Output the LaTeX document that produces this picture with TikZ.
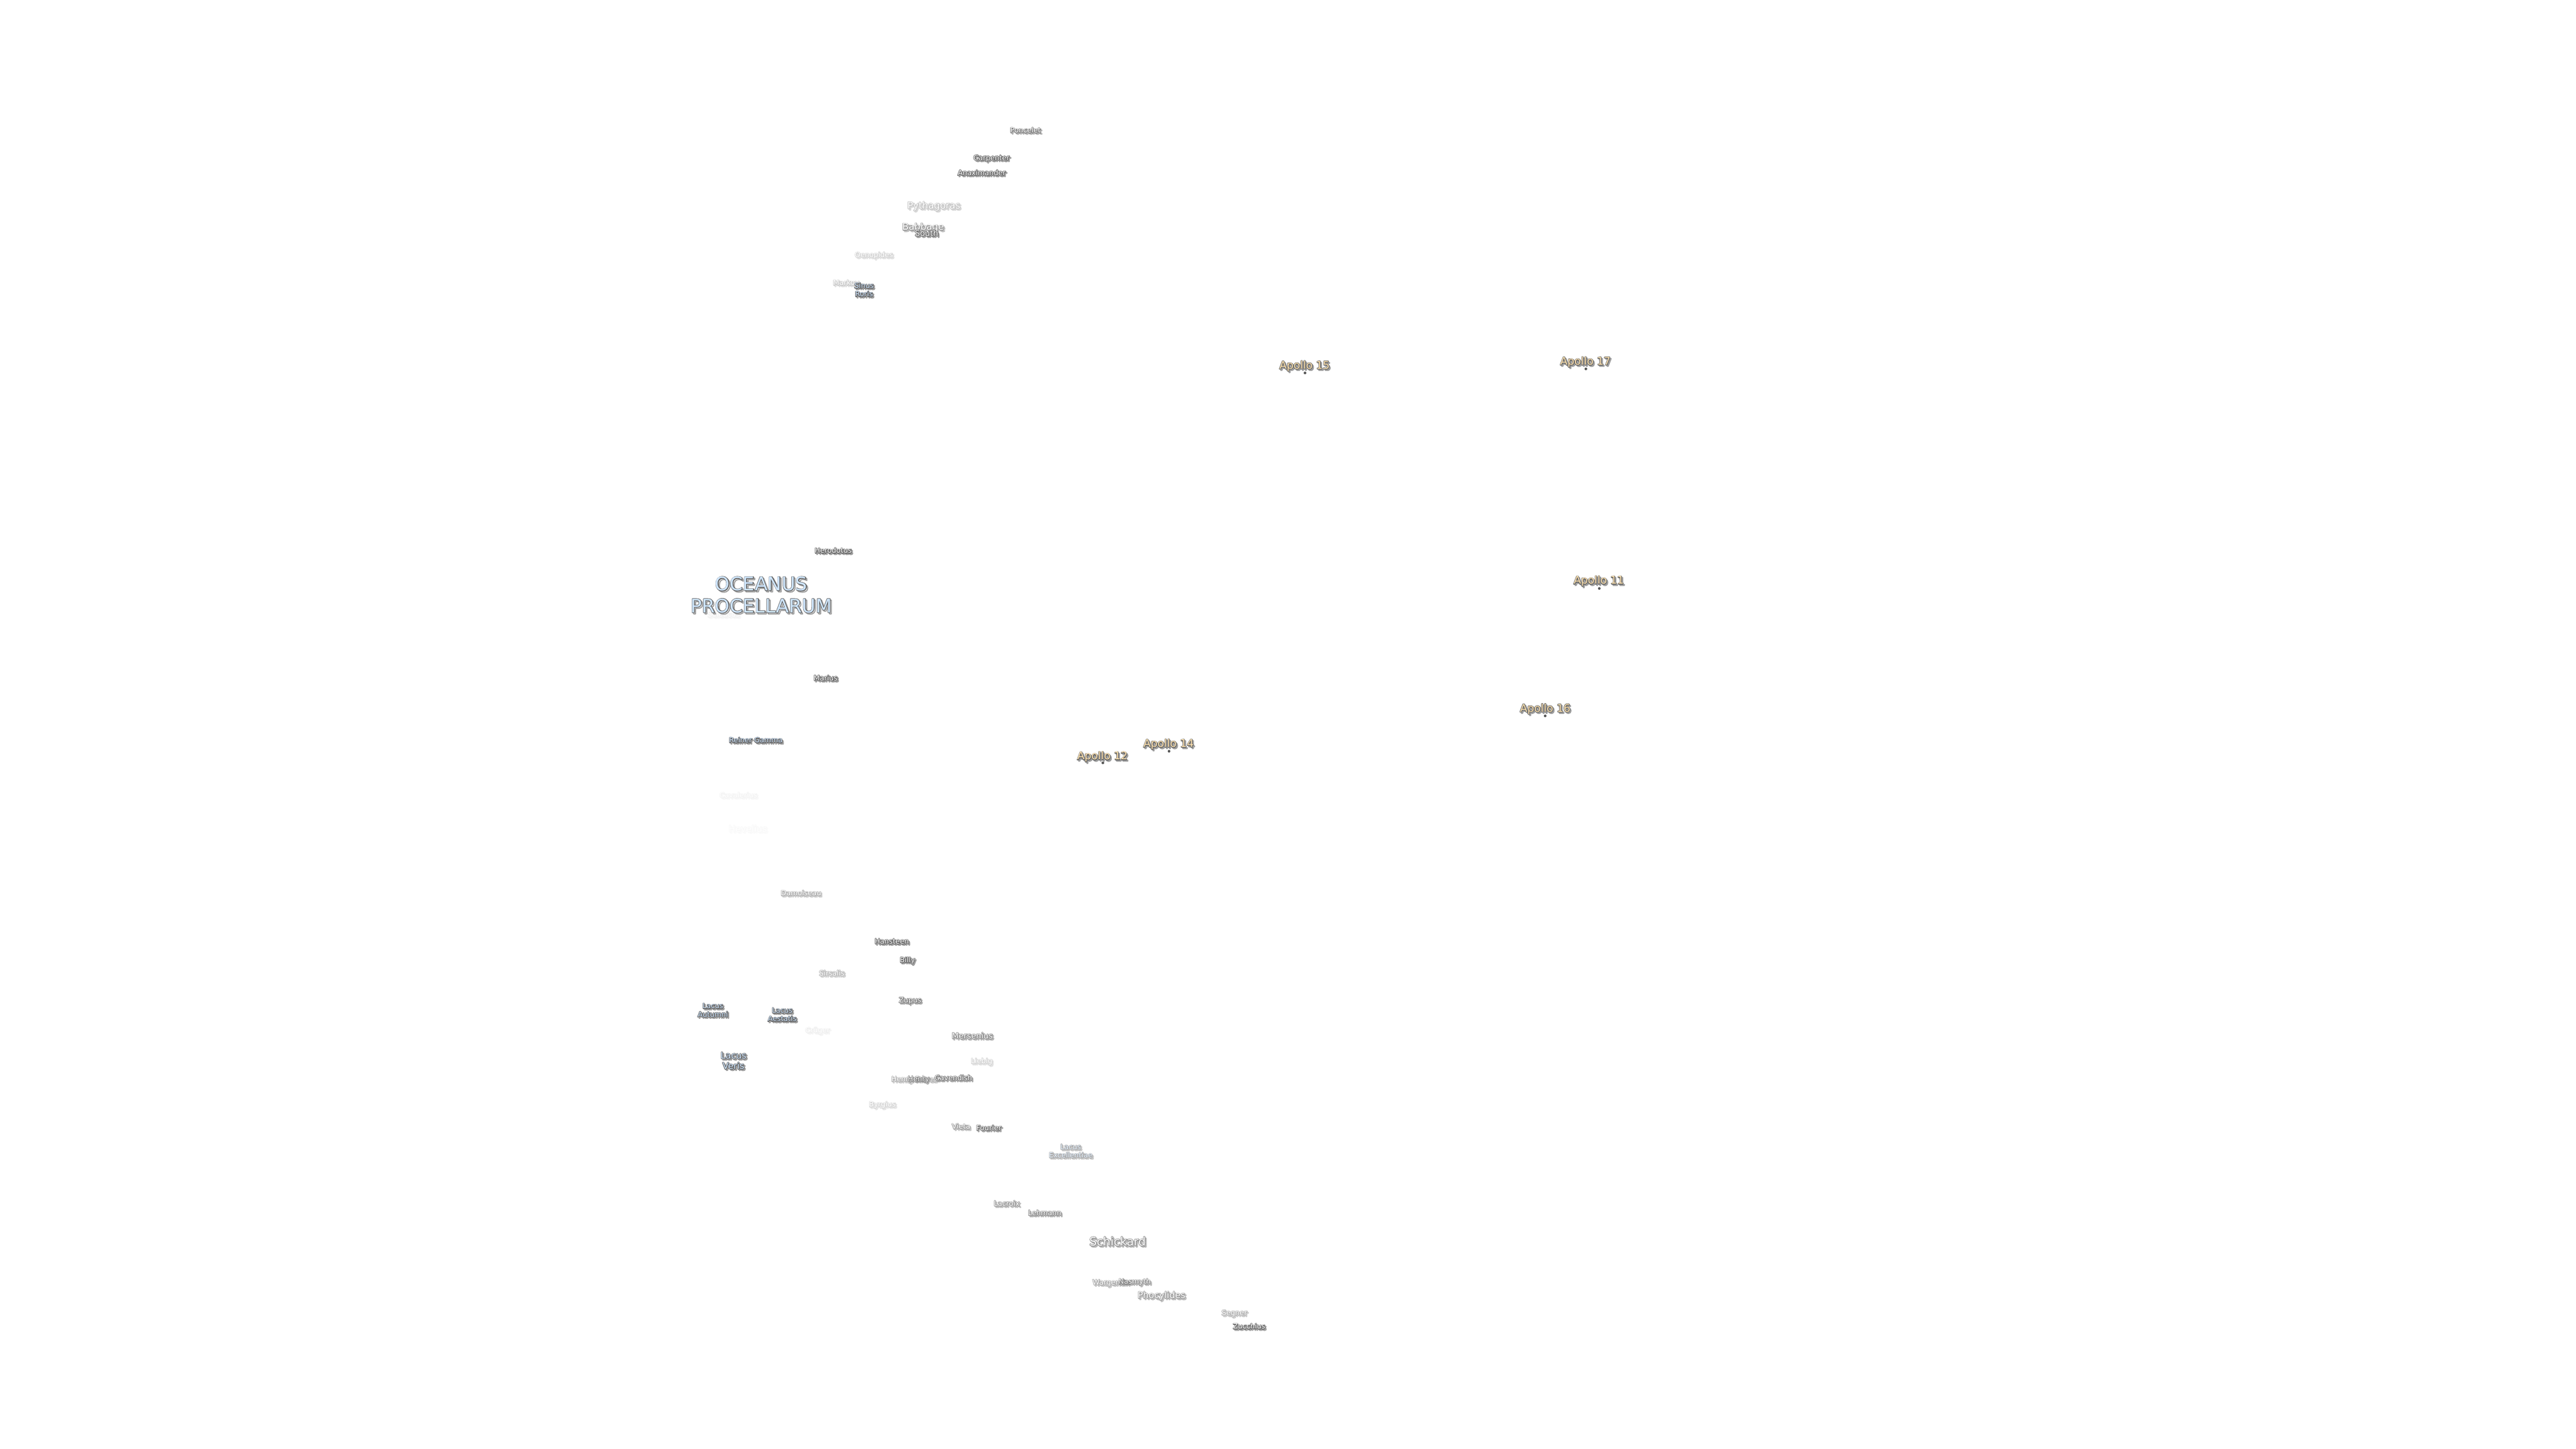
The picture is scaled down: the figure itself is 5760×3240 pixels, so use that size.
\documentclass[tikz,border=0pt]{standalone}
\usepackage{fontspec}
\setmainfont{DejaVu Sans}
\definecolor{fillW}{HTML}{FFFFFF}
\definecolor{fillSea}{HTML}{CFE6FF}
\definecolor{fillAp}{HTML}{FFE2B0}
\definecolor{dotC}{HTML}{555555}
\newdimen\lblead
\newcommand{\fs}[1]{\lblead=#1pt \lblead=1.17\lblead \fontsize{#1}{\the\lblead}\selectfont}
% outline-only text: #1 grey level of the stroke, #2 stroke width, #3 text
\newcommand{\strk}[3]{\special{pdf:code q 1 Tr 1 j #2 w #1 #1 #1 RG}#3\special{pdf:code Q}}
% one label: name, x, y(px from top), size, opacity, fill colour, text
\newcommand{\lab}[7]{%
  \begin{scope}[opacity=#5,transparency group,yshift=0.1pt]
  \node[lbl,font=\fs{#4}] at (#2+3,-#3-3) {\strk{0.62}{0.25}{#7}};
  \node[lbl,font=\fs{#4}] at (#2,-#3) {\strk{0.38}{0.25}{#7}};
  \node[lbl,text=#6,font=\fs{#4}] (#1) at (#2,-#3) {#7};
  \end{scope}}
\tikzset{lbl/.style={inner sep=0pt,align=center,anchor=center},
  apdot/.style={circle,inner sep=0pt,minimum size=0.6pt,fill=dotC,draw=none}}
\begin{document}
\begin{tikzpicture}[x=0.1pt,y=0.1pt]
\useasboundingbox[fill=white] (0,0) rectangle (5760,-3240);
\lab{poncelet}{2293}{292}{1.6}{0.8}{fillW}{Poncelet}
\lab{carpenter}{2217}{355}{1.6}{1}{fillW}{Carpenter}
\lab{anaximander}{2195}{387}{1.6}{1}{fillW}{Anaximander}
\lab{pythagoras}{2088}{462}{2.1}{0.4}{fillW}{Pythagoras}
\lab{babbage}{2064}{510}{2.1}{0.65}{fillW}{Babbage}
\lab{south}{2072}{522}{1.8}{1}{fillW}{South}
\lab{oenopides}{1954}{572}{1.6}{0.28}{fillW}{Oenopides}
\lab{markov}{1892}{633}{1.6}{0.33}{fillW}{Markov}
\lab{sinus}{1932}{649}{1.6}{1}{fillSea}{Sinus\\Roris}
\lab{herodotus}{1863}{1232}{1.6}{1}{fillW}{Herodotus}
\lab{seleucus}{1618}{1375}{1.6}{0.08}{fillW}{Seleucus}
\lab{oceanus}{1702}{1331}{4.2}{1}{fillSea}{OCEANUS\\PROCELLARUM}
\lab{marius}{1846}{1517}{1.6}{1}{fillW}{Marius}
\lab{reiner}{1690}{1656}{1.6}{1}{fillSea}{Reiner Gamma}
\lab{cavalerius}{1651}{1779}{1.6}{0.07}{fillW}{Cavalerius}
\lab{hevelius}{1672}{1854}{2.0}{0.04}{fillW}{Hevelius}
\lab{damoiseau}{1791}{1998}{1.6}{0.5}{fillW}{Damoiseau}
\lab{hansteen}{1994}{2106}{1.6}{1}{fillW}{Hansteen}
\lab{billy}{2029}{2149}{1.6}{1}{fillW}{Billy}
\lab{sirsalis}{1860}{2177}{1.6}{0.45}{fillW}{Sirsalis}
\lab{zupus}{2035}{2239}{1.6}{0.85}{fillW}{Zupus}
\lab{autumni}{1594}{2260}{1.6}{1}{fillSea}{Lacus\\Autumni}
\lab{aestatis}{1749}{2270}{1.6}{1}{fillSea}{Lacus\\Aestatis}
\lab{cruger}{1828}{2306}{1.6}{0.1}{fillW}{Crüger}
\lab{veris}{1640}{2373}{2.0}{1}{fillSea}{Lacus\\Veris}
\lab{mersenius}{2174}{2317}{1.8}{0.75}{fillW}{Mersenius}
\lab{liebig}{2195}{2375}{1.6}{0.28}{fillW}{Liebig}
\lab{henryf}{2044}{2415}{1.6}{0.5}{fillW}{Henry Frères}
\lab{henry}{2054}{2415}{1.6}{0.75}{fillW}{Henry}
\lab{cavendish}{2132}{2411}{1.6}{0.85}{fillW}{Cavendish}
\lab{byrgius}{1973}{2472}{1.6}{0.25}{fillW}{Byrgius}
\lab{vieta}{2149}{2520}{1.6}{0.6}{fillW}{Vieta}
\lab{fourier}{2211}{2523}{1.6}{0.9}{fillW}{Fourier}
\lab{excellentiae}{2394}{2575}{1.6}{0.55}{fillSea}{Lacus\\Excellentiae}
\lab{lacroix}{2251}{2692}{1.6}{0.65}{fillW}{Lacroix}
\lab{lehmann}{2336}{2713}{1.6}{0.75}{fillW}{Lehmann}
\lab{schickard}{2499}{2777}{2.6}{0.75}{fillW}{Schickard}
\lab{wargentin}{2484}{2870}{1.6}{0.55}{fillW}{Wargentin}
\lab{nasmyth}{2537}{2868}{1.6}{0.7}{fillW}{Nasmyth}
\lab{phocylides}{2597}{2899}{2.0}{0.65}{fillW}{Phocylides}
\lab{segner}{2760}{2938}{1.6}{0.5}{fillW}{Segner}
\lab{zucchius}{2793}{2967}{1.6}{0.95}{fillW}{Zucchius}
\lab{apXII}{2465}{1693.5}{2.4}{1}{fillAp}{Apollo 12}
\lab{apXIV}{2613}{1665.5}{2.4}{1}{fillAp}{Apollo 14}
\lab{apXV}{2917}{819.5}{2.4}{1}{fillAp}{Apollo 15}
\lab{apXVII}{3545}{810.5}{2.4}{1}{fillAp}{Apollo 17}
\lab{apXI}{3575}{1300.5}{2.4}{1}{fillAp}{Apollo 11}
\lab{apXVI}{3455}{1586.5}{2.4}{1}{fillAp}{Apollo 16}
\node[apdot] (dotXII) at (2466,-1706) {};
\node[apdot] (dotXIV) at (2614,-1680) {};
\node[apdot] (dotXV) at (2918,-834) {};
\node[apdot] (dotXVII) at (3546,-825) {};
\node[apdot] (dotXI) at (3576,-1316) {};
\node[apdot] (dotXVI) at (3455,-1601) {};
\end{tikzpicture}
\end{document}
